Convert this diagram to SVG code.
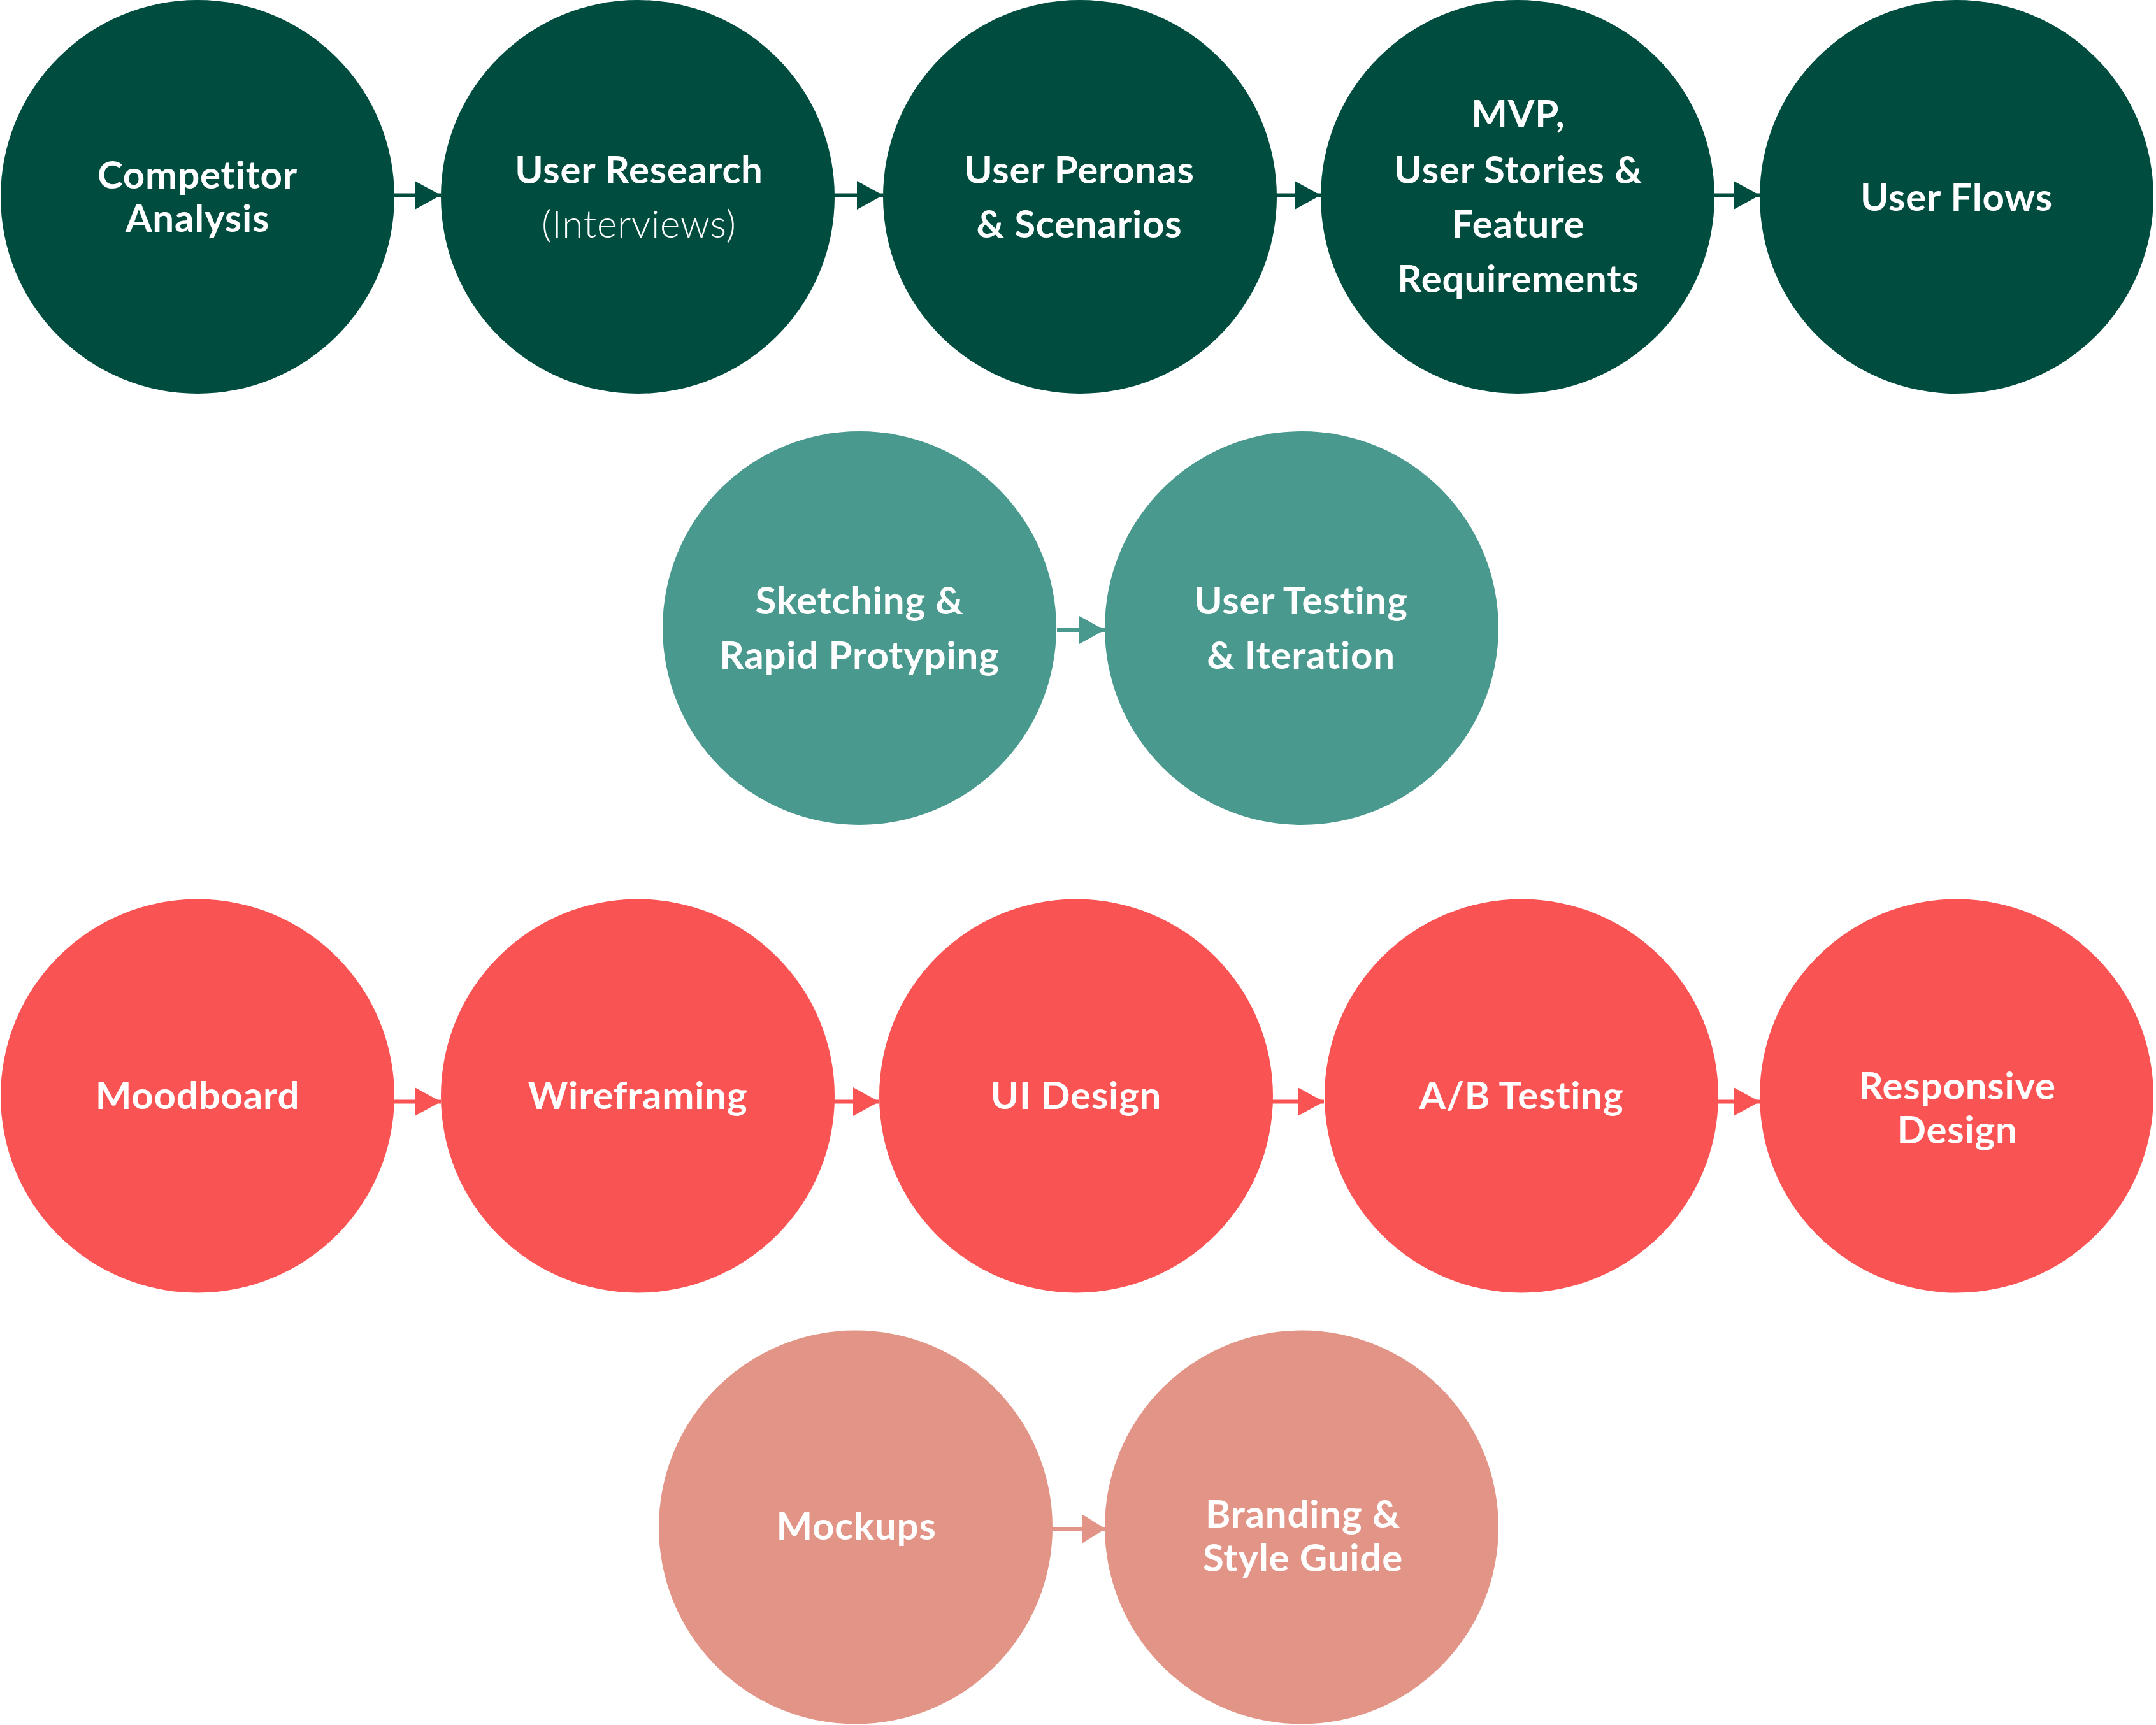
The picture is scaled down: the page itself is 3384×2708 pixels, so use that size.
<svg xmlns="http://www.w3.org/2000/svg" width="3384" height="2708" viewBox="0 0 3384 2708">
<style>
.t{font-family:"Lato","Open Sans","Liberation Sans",sans-serif;font-weight:700;font-size:60px;letter-spacing:0.8px;fill:#ffffff;text-anchor:middle}
.l{font-weight:300}
.g1{fill:#004d40}
.g2{fill:#4a998f}
.g3{fill:#fa5353}
.g4{fill:#e29486}
.c1{stroke:#004d40;stroke-width:6;fill:none}
.c2{stroke:#4a998f;stroke-width:6;fill:none}
.c3{stroke:#fa5353;stroke-width:6;fill:none}
.c4{stroke:#e29486;stroke-width:6;fill:none}
</style>
<defs>
<marker id="m1" markerUnits="userSpaceOnUse" markerWidth="41" markerHeight="45" refX="41" refY="22.5" orient="auto"><path d="M0,0 L41,22.5 L0,45 Z" fill="#004d40"/></marker>
<marker id="m2" markerUnits="userSpaceOnUse" markerWidth="41" markerHeight="45" refX="41" refY="22.5" orient="auto"><path d="M0,0 L41,22.5 L0,45 Z" fill="#4a998f"/></marker>
<marker id="m3" markerUnits="userSpaceOnUse" markerWidth="41" markerHeight="45" refX="41" refY="22.5" orient="auto"><path d="M0,0 L41,22.5 L0,45 Z" fill="#fa5353"/></marker>
<marker id="m4" markerUnits="userSpaceOnUse" markerWidth="36" markerHeight="45" refX="36" refY="22.5" orient="auto"><path d="M0,0 L36,22.5 L0,45 Z" fill="#e29486"/></marker>
</defs>
<rect width="3384" height="2708" fill="#ffffff"/>
<g id="connectors">
<line class="c1" x1="618" y1="306.5" x2="692" y2="306.5" marker-end="url(#m1)"/>
<line class="c1" x1="1309" y1="306.5" x2="1386" y2="306.5" marker-end="url(#m1)"/>
<line class="c1" x1="2003" y1="306.5" x2="2073" y2="306.5" marker-end="url(#m1)"/>
<line class="c1" x1="2690" y1="306.5" x2="2762" y2="306.5" marker-end="url(#m1)"/>
<line class="c2" x1="1659" y1="989" x2="1734" y2="989" marker-end="url(#m2)"/>
<line class="c3" x1="618" y1="1729.5" x2="692" y2="1729.5" marker-end="url(#m3)"/>
<line class="c3" x1="1309" y1="1729.5" x2="1380" y2="1729.5" marker-end="url(#m3)"/>
<line class="c3" x1="1997" y1="1729.5" x2="2078" y2="1729.5" marker-end="url(#m3)"/>
<line class="c3" x1="2696" y1="1729.5" x2="2762" y2="1729.5" marker-end="url(#m3)"/>
<line class="c4" x1="1651" y1="2400" x2="1735" y2="2400" marker-end="url(#m4)"/>
</g>
<g id="competitor-analysis"><circle class="g1" cx="310" cy="309" r="309"/><text class="t" x="310" y="296">Competitor</text><text class="t" x="310" y="364">Analysis</text></g>
<g id="user-research"><circle class="g1" cx="1001" cy="309" r="309"/><text class="t" x="1003" y="288">User Research</text><text class="t l" x="1003" y="373">(Interviews)</text></g>
<g id="user-personas"><circle class="g1" cx="1695" cy="309" r="309"/><text class="t" x="1694" y="288">User Peronas</text><text class="t" x="1694" y="373">&amp; Scenarios</text></g>
<g id="mvp"><circle class="g1" cx="2382" cy="309" r="309"/><text class="t" x="2383" y="200">MVP,</text><text class="t" x="2383" y="288">User Stories &amp;</text><text class="t" x="2383" y="373">Feature</text><text class="t" x="2383" y="459">Requirements</text></g>
<g id="user-flows"><circle class="g1" cx="3071" cy="309" r="309"/><text class="t" x="3071" y="331">User Flows</text></g>
<g id="sketching"><circle class="g2" cx="1349" cy="986" r="309"/><text class="t" x="1349" y="964">Sketching &amp;</text><text class="t" x="1349" y="1050">Rapid Protyping</text></g>
<g id="user-testing"><circle class="g2" cx="2043" cy="986" r="309"/><text class="t" x="2042" y="964">User Testing</text><text class="t" x="2042" y="1050">&amp; Iteration</text></g>
<g id="moodboard"><circle class="g3" cx="310" cy="1720.5" r="309"/><text class="t" x="310" y="1741">Moodboard</text></g>
<g id="wireframing"><circle class="g3" cx="1001" cy="1720.5" r="309"/><text class="t" x="1001" y="1741">Wireframing</text></g>
<g id="ui-design"><circle class="g3" cx="1689" cy="1720.5" r="309"/><text class="t" x="1689" y="1741">UI Design</text></g>
<g id="ab-testing"><circle class="g3" cx="2388" cy="1720.5" r="309"/><text class="t" x="2388" y="1741">A/B Testing</text></g>
<g id="responsive-design"><circle class="g3" cx="3071" cy="1720.5" r="309"/><text class="t" x="3072" y="1726">Responsive</text><text class="t" x="3072" y="1795">Design</text></g>
<g id="mockups"><circle class="g4" cx="1343" cy="2397.5" r="309"/><text class="t" x="1344" y="2417">Mockups</text></g>
<g id="branding"><circle class="g4" cx="2043" cy="2397.5" r="309"/><text class="t" x="2045" y="2398">Branding &amp;</text><text class="t" x="2045" y="2467">Style Guide</text></g>
</svg>
